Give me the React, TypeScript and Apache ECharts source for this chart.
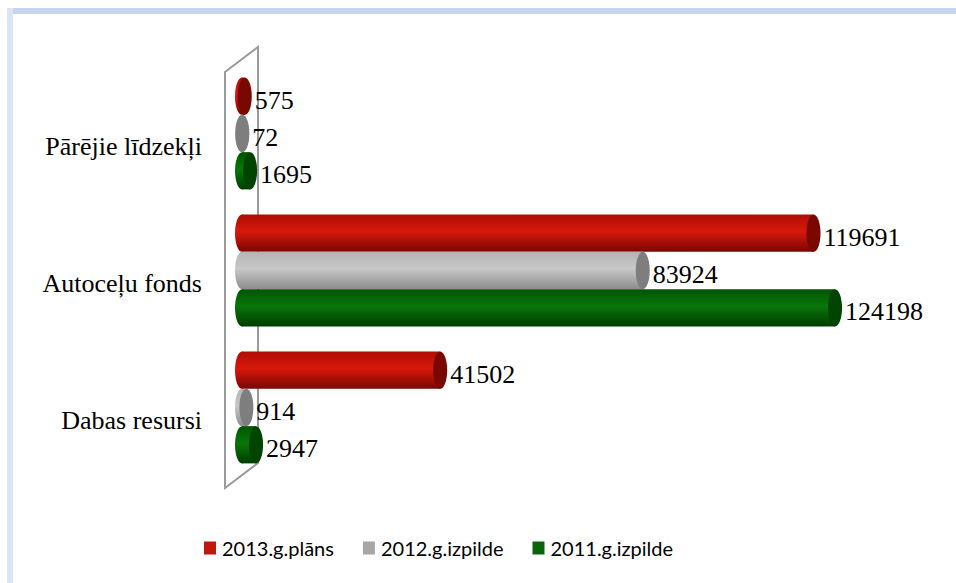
import React, { useEffect, useRef } from "react";
import * as echarts from "echarts";

const categories = ["Pārējie līdzekļi", "Autoceļu fonds", "Dabas resursi"];
const seriesNames = ["2013.g.plāns", "2012.g.izpilde", "2011.g.izpilde"];
const values2013 = [575, 119691, 41502];
const values2012 = [72, 83924, 914];
const values2011 = [1695, 124198, 2947];

const palettes = [
  { legend: "#c0180c", top: "#b00c04", mid: "#d8180c", bottom: "#7a0602", cap: "#780800" },
  { legend: "#a6a6a6", top: "#b4b4b4", mid: "#c8c8c8", bottom: "#8c8c8c", cap: "#7e7e7e" },
  { legend: "#0a640a", top: "#005400", mid: "#0a760a", bottom: "#003c00", cap: "#004400" },
];

export default function App() {
  const ref = useRef<HTMLDivElement>(null);
  useEffect(() => {
    if (!ref.current) return;
    const chart = echarts.init(ref.current, null, { renderer: "svg" });
    const allValues = [values2013, values2012, values2011];
    const series = allValues.map((vals, si) => {
      const p = palettes[si];
      const offset = si - 1;
      return {
        type: "custom",
        name: seriesNames[si],
        itemStyle: { color: p.legend },
        encode: { x: 0, y: 1 },
        data: vals.map((v, ci) => [v, ci]),
        z: 5 + si,
        renderItem: (params: any, api: any) => {
          const ci = api.value(1);
          const v = api.value(0);
          const s = api.coord([0, ci]);
          const e = api.coord([v, ci]);
          const band = api.size([0, 1])[1];
          const h = band * 0.272;
          const cy = s[1] + offset * h;
          const rx = 7;
          const x0 = s[0];
          const x1 = e[0];
          const grad = new echarts.graphic.LinearGradient(0, 0, 0, 1, [
            { offset: 0, color: p.top },
            { offset: 0.45, color: p.mid },
            { offset: 1, color: p.bottom },
          ]);
          return {
            type: "group",
            children: [
              { type: "ellipse", shape: { cx: x0, cy, rx, ry: h / 2 }, style: { fill: grad } },
              { type: "rect", shape: { x: x0, y: cy - h / 2, width: Math.max(x1 - x0, 0), height: h }, style: { fill: grad } },
              { type: "ellipse", shape: { cx: x1, cy, rx, ry: h / 2 }, style: { fill: p.cap } },
              {
                type: "text",
                x: x1 + rx + 3,
                y: cy + 4,
                style: {
                  text: String(v),
                  fill: "#000",
                  font: '26px "Liberation Serif"',
                  align: "left",
                  verticalAlign: "middle",
                },
              },
            ],
          };
        },
      };
    });
    chart.setOption({
      animation: false,
      backgroundColor: "#fff",
      grid: { left: 242, right: 45.5, top: 65, bottom: 107 },
      xAxis: { type: "value", min: 0, max: 140000, show: false },
      yAxis: {
        type: "category",
        data: categories,
        inverse: true,
        axisLine: { show: false },
        axisTick: { show: false },
        splitLine: { show: false },
        axisLabel: {
          margin: 40,
          color: "#000",
          fontSize: 26,
          fontFamily: "Liberation Serif",
          verticalAlign: "top",
        },
      },
      legend: {
        left: 204,
        top: 538,
        padding: 0,
        itemWidth: 12,
        itemHeight: 13,
        itemGap: 29,
        icon: "rect",
        textStyle: { color: "#000", fontSize: 20, fontFamily: "Lato", padding: [0, 0, 0, 1] },
        data: seriesNames,
      },
      graphic: [
        { type: "rect", z: 0, shape: { x: 7, y: 8, width: 949, height: 6 }, style: { fill: "#c6d4ee" } },
        { type: "rect", z: 0, shape: { x: 7, y: 8, width: 6, height: 575 }, style: { fill: "#dbe3f4" } },
        {
          type: "polygon",
          z: 0,
          shape: { points: [[225, 72], [258, 47], [258, 463], [225, 488]] },
          style: { fill: "none", stroke: "#9a9a9a", lineWidth: 2 },
        },
      ],
      series,
    });
    return () => chart.dispose();
  }, []);
  return <div ref={ref} style={{ position: "fixed", left: 0, top: 0, width: 956, height: 583 }} />;
}
